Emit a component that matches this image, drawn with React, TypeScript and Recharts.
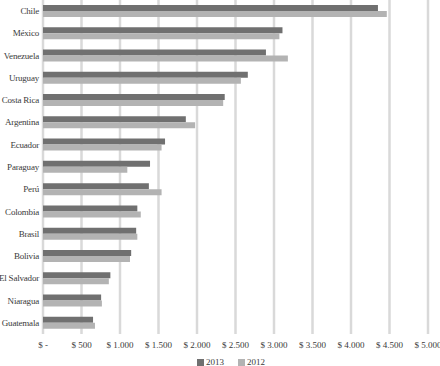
import { BarChart, Bar, XAxis, YAxis, CartesianGrid, Legend } from 'recharts';

const countries = [
  'Chile', 'México', 'Venezuela', 'Uruguay', 'Costa Rica', 'Argentina', 'Ecuador',
  'Paraguay', 'Perú', 'Colombia', 'Brasil', 'Bolivia', 'El Salvador', 'Niaragua', 'Guatemala',
];
const values2013 = [4350, 3110, 2895, 2660, 2360, 1855, 1585, 1390, 1375, 1225, 1210, 1145, 875, 755, 650];
const values2012 = [4465, 3070, 3180, 2570, 2340, 1975, 1540, 1095, 1540, 1270, 1225, 1130, 855, 765, 675];
const xTicks = [0, 500, 1000, 1500, 2000, 2500, 3000, 3500, 4000, 4500, 5000];

const data = countries.map((name, i) => ({
  name,
  y2013: values2013[i],
  y2012: values2012[i],
}));

const font = '"Liberation Serif", serif';
const textColor = '#3a3a3a';

const formatMoney = (v: number) => {
  if (v === 0) return '$ -';
  return '$ ' + String(v).replace(/\B(?=(\d{3})+(?!\d))/g, '.');
};

const CountryTick = ({ x, y, payload }: any) => (
  <text x={x} y={y} dy={3} textAnchor="end" fontSize={9} letterSpacing={-0.2} fill={textColor} fontFamily={font}>
    {payload.value}
  </text>
);

const MoneyTick = ({ x, y, payload }: any) => (
  <text x={x} y={y} dy={8} textAnchor="middle" fontSize={9} fill={textColor} fontFamily={font}>
    {formatMoney(payload.value)}
  </text>
);

const legendItems = [
  { label: '2013', color: '#707070' },
  { label: '2012', color: '#b3b3b3' },
];

const LegendContent = () => (
  <div style={{ display: 'flex', justifyContent: 'center', gap: 14, fontSize: 9, fontFamily: font, color: textColor, paddingLeft: 34 }}>
    {legendItems.map((it) => (
      <span key={it.label} style={{ display: 'flex', alignItems: 'center' }}>
        <span style={{ display: 'inline-block', width: 7, height: 7, background: it.color, marginRight: 2 }} />
        {it.label}
      </span>
    ))}
  </div>
);

export default function App() {
  return (
    <div style={{ position: 'absolute', left: 0, top: 0, width: 440, height: 366, background: '#fff' }}>
      <BarChart
        width={440}
        height={366}
        data={data}
        layout="vertical"
        margin={{ top: 0, right: 12, bottom: 0, left: 0 }}
        barSize={6}
        barGap={0}
      >
        <CartesianGrid horizontal={false} stroke="#d9d9d9" strokeWidth={2.5} />
        <XAxis
          type="number"
          domain={[0, 5000]}
          ticks={xTicks}
          axisLine={false}
          tickLine={false}
          tickSize={4}
          height={16}
          interval={0}
          tick={<MoneyTick />}
        />
        <YAxis
          type="category"
          dataKey="name"
          width={43}
          axisLine={false}
          tickLine={false}
          tickSize={2}
          interval={0}
          tick={<CountryTick />}
        />
        <Legend verticalAlign="bottom" height={16} content={<LegendContent />} wrapperStyle={{ bottom: -7 }} />
        <Bar dataKey="y2013" name="2013" fill="#707070" isAnimationActive={false} />
        <Bar dataKey="y2012" name="2012" fill="#b3b3b3" isAnimationActive={false} />
      </BarChart>
    </div>
  );
}
